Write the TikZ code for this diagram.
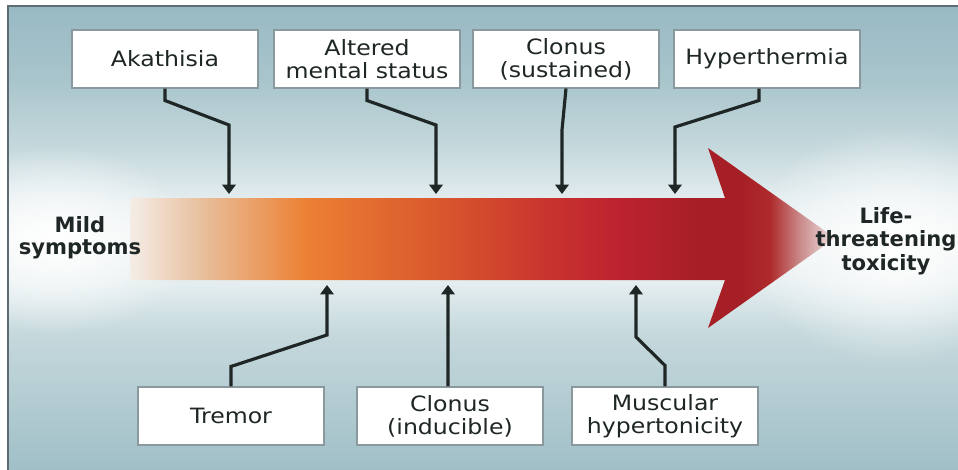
\documentclass[tikz,border=0pt]{standalone}
\usepackage{fontspec}
\setmainfont{DejaVu Sans}
\newfontfamily\boxfont{DejaVu Sans}[FakeStretch=1.12]
\usetikzlibrary{
  arrows.meta,
  fadings
}
\definecolor{ink}{HTML}{1F2626}
\definecolor{boxline}{HTML}{8A999D}
\definecolor{frameline}{HTML}{5E6C72}
% background tones
\definecolor{bgtop}{HTML}{98B9C3}
\definecolor{bgupper}{HTML}{A9C5CC}
\definecolor{bgmidA}{HTML}{C6D9DD}
\definecolor{bgmidB}{HTML}{E4EDEF}
\definecolor{bgcentre}{HTML}{F1F5F5}
\definecolor{bgbottom}{HTML}{A0BFC7}
% arrow tones
\definecolor{arA}{HTML}{F4EDE6}
\definecolor{arB}{HTML}{E8C09E}
\definecolor{arC}{HTML}{EC8034}
\definecolor{arD}{HTML}{DA5A2D}
\definecolor{arE}{HTML}{C7302E}
\definecolor{arF}{HTML}{BC2230}
\definecolor{arG}{HTML}{A61F26}
\definecolor{arH}{HTML}{AE2A2C}
\definecolor{arI}{HTML}{CB8A8A}
\definecolor{arJ}{HTML}{EFE4E4}

\pgfdeclareverticalshading{backdrop}{100bp}{
  color(0bp)=(bgbottom);
  color(25bp)=(bgbottom);
  color(40bp)=(bgmidA);
  color(45bp)=(bgmidB);
  color(50bp)=(bgcentre);
  color(54bp)=(bgmidB);
  color(59.5bp)=(bgmidA);
  color(67bp)=(bgupper);
  color(75bp)=(bgtop);
  color(100bp)=(bgtop)
}
\pgfdeclarehorizontalshading{toxbar}{100bp}{
  color(0bp)=(arA);
  color(25bp)=(arA);
  color(30bp)=(arB);
  color(37.5bp)=(arC);
  color(46.3bp)=(arD);
  color(55.5bp)=(arE);
  color(59.8bp)=(arF);
  color(65.4bp)=(arG);
  color(68.3bp)=(arG);
  color(70.4bp)=(arH);
  color(72.5bp)=(arI);
  color(75bp)=(arJ);
  color(100bp)=(arJ)
}
\tikzfading[name=glow, inner color=transparent!0, outer color=transparent!100]

\tikzset{
  symptom box/.style={
    draw=boxline,
    line width=0.6pt,
    fill=white,
    minimum width=3.72cm,
    minimum height=1.16cm,
    inner sep=0pt,
    align=center,
    text=ink,
    font=\boxfont\fontsize{12}{13}\selectfont
  },
  symptom link/.style={
    line width=1.8pt,
    draw=ink,
    -{Triangle[length=1.9mm,width=2.7mm]}
  },
  end label/.style={
    align=center,
    text=ink,
    font=\fontsize{12}{12.5}\selectfont\bfseries
  }
}

\begin{document}
\begin{tikzpicture}[x=0.02cm,y=-0.02cm]
    \useasboundingbox (0,0) rectangle (958,470);

    % ---------- background ----------
    \shade[shading=backdrop] (8,6) rectangle (958,470);
    \fill[white,path fading=glow] (55,240) ellipse [x radius=140, y radius=95];
    \fill[white,path fading=glow] (895,245) ellipse [x radius=150, y radius=120];
    \draw[frameline,line width=0.8pt] (8,470) -- (8,6) -- (958,6);

    % ---------- severity arrow ----------
    \shade[shading=toxbar]
      (130,198) -- (725,198) -- (708,148) -- (835,238)
      -- (708,328) -- (725,280) -- (130,280) -- cycle;

    \node[end label] (mild) at (80,238) {Mild\\symptoms};
    \node[end label,font=\fontsize{12}{13.5}\selectfont\bfseries]
      (life) at (886,241) {Life-\\threatening\\toxicity};

    % ---------- symptom boxes ----------
    % above the arrow
    \node[symptom box] (akathisia) at (165,59) {Akathisia};
    \node[symptom box] (altered) at (367,59) {Altered\\mental status};
    \node[symptom box] (clonusS) at (566,59) {Clonus\\(sustained)};
    \node[symptom box] (hyperthermia) at (767,59) {Hyperthermia};

    % below the arrow
    \node[symptom box] (tremor) at (231,416) {Tremor};
    \node[symptom box] (clonusI) at (450,416) {Clonus\\(inducible)};
    \node[symptom box] (hypertonicity) at (665,416) {Muscular\\hypertonicity};

    % ---------- links onto the arrow ----------
    \coordinate (akathisia in) at (229,194);
    \coordinate (altered in) at (436,194);
    \coordinate (clonusS in) at (562,194);
    \coordinate (hyperthermia in) at (675,194);
    \coordinate (tremor in) at (327,285);
    \coordinate (clonusI in) at (448,285);
    \coordinate (hypertonicity in) at (636,285);

    \draw[symptom link]
      (akathisia.south) -- ++(0,12) -- (229,125) -- (akathisia in);
    \draw[symptom link]
      (altered.south) -- ++(0,12) -- (436,125) -- (altered in);
    \draw[symptom link]
      (clonusS.south) -- (562,130) -- (clonusS in);
    \draw[symptom link]
      ([xshift=-0.16cm]hyperthermia.south) -- ++(0,12) -- (675,127)
      -- (hyperthermia in);

    \draw[symptom link]
      (tremor.north) -- ++(0,-20) -- (327,335) -- (tremor in);
    \draw[symptom link]
      ([xshift=-0.04cm]clonusI.north) -- (clonusI in);
    \draw[symptom link]
      (hypertonicity.north) -- ++(0,-21) -- (636,337) -- (hypertonicity in);

\end{tikzpicture}
\end{document}
